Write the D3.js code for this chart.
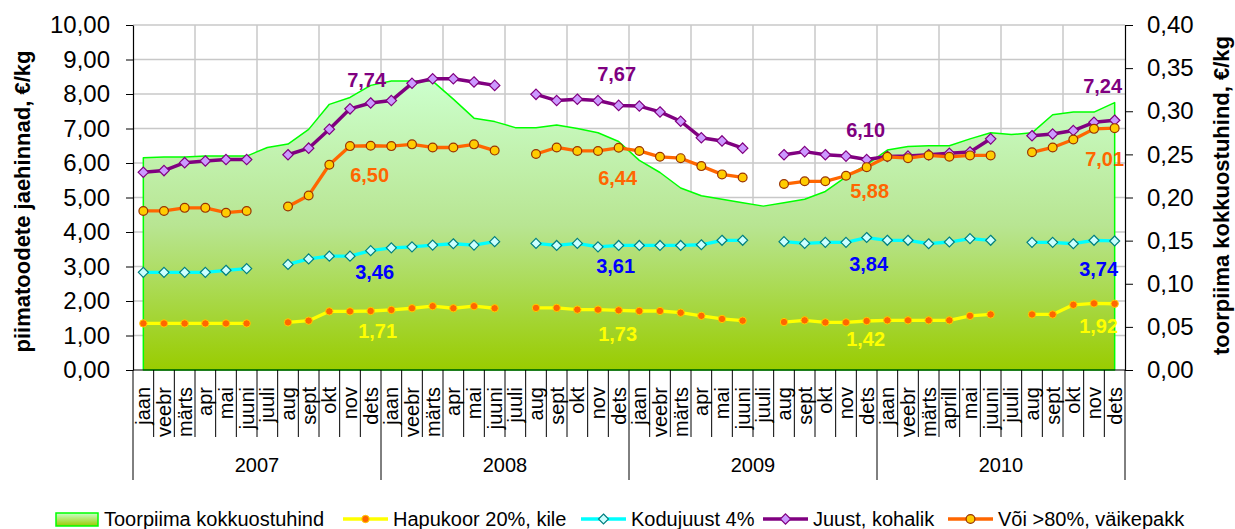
<!DOCTYPE html>
<html>
<head>
<meta charset="utf-8">
<script src="https://cdn.jsdelivr.net/npm/d3@7"></script>
<style>
  html, body { margin: 0; padding: 0; background: #fff; }
  svg { display: block; font-family: "Liberation Sans", Arial, sans-serif; }
</style>
</head>
<body>
<svg id="chart" width="1235" height="529"></svg>
<script>
// ---------------- DATA ----------------
const years = ["2007", "2008", "2009", "2010"];
const monthsStd = ["jaan","veebr","märts","apr","mai","juuni","juuli","aug","sept","okt","nov","dets"];
const months2010 = ["jaan","veebr","märts","aprill","mai","juuni","juuli","aug","sept","okt","nov","dets"];
const monthLabels = [...monthsStd, ...monthsStd, ...monthsStd, ...months2010];

const leftTicks = [0,1,2,3,4,5,6,7,8,9,10];
const rightTicks = [0,0.05,0.10,0.15,0.20,0.25,0.30,0.35,0.40];

// Toorpiima kokkuostuhind (right axis)
const toorpiima = [
  0.246,0.247,0.247,0.248,0.248,0.248,0.258,0.262,0.279,0.308,0.316,0.330,
  0.335,0.335,0.335,0.314,0.292,0.288,0.281,0.281,0.284,0.280,0.275,0.265,
  0.243,0.229,0.211,0.202,0.198,0.194,0.190,0.194,0.198,0.207,0.224,0.238,
  0.255,0.259,0.260,0.260,0.268,0.275,0.273,0.275,0.296,0.299,0.299,0.310
];
// Hapukoor 20%, kile
const hapukoor = [
  1.35,1.35,1.35,1.35,1.35,1.35,null,1.38,1.43,1.70,1.70,1.71,
  1.74,1.79,1.85,1.79,1.85,1.79,null,1.80,1.80,1.75,1.75,1.73,
  1.71,1.71,1.66,1.57,1.48,1.43,null,1.39,1.44,1.38,1.38,1.42,
  1.44,1.44,1.44,1.44,1.57,1.61,null,1.61,1.61,1.89,1.93,1.92
];
// Kodujuust 4%
const kodujuust = [
  2.83,2.83,2.83,2.83,2.89,2.94,null,3.06,3.22,3.30,3.30,3.46,
  3.54,3.57,3.62,3.66,3.62,3.72,null,3.67,3.61,3.67,3.57,3.61,
  3.61,3.61,3.61,3.63,3.76,3.76,null,3.72,3.67,3.70,3.70,3.84,
  3.76,3.76,3.66,3.71,3.81,3.76,null,3.70,3.70,3.66,3.76,3.74
];
// Juust, kohalik
const juust = [
  5.73,5.78,6.01,6.06,6.10,6.10,null,6.24,6.43,6.98,7.57,7.74,
  7.81,8.31,8.44,8.44,8.35,8.25,null,7.99,7.81,7.85,7.81,7.67,
  7.65,7.48,7.21,6.73,6.64,6.43,null,6.24,6.33,6.24,6.20,6.10,
  6.19,6.20,6.24,6.28,6.32,6.70,null,6.79,6.84,6.94,7.18,7.24
];
// Või >80%, väikepakk
const voi = [
  4.61,4.61,4.70,4.70,4.56,4.61,null,4.74,5.06,5.95,6.49,6.50,
  6.49,6.54,6.45,6.45,6.54,6.36,null,6.26,6.45,6.35,6.35,6.44,
  6.35,6.18,6.14,5.91,5.67,5.58,null,5.39,5.47,5.47,5.63,5.88,
  6.18,6.14,6.22,6.18,6.22,6.22,null,6.31,6.45,6.68,6.99,7.01
];

const seriesNames = ["Toorpiima kokkuostuhind","Hapukoor 20%, kile","Kodujuust 4%","Juust, kohalik","Või >80%, väikepakk"];
// indices of the December points that carry a value label
const labelIdx = [11, 23, 35, 47];

// ---------------- LAYOUT / STYLE ----------------
const L = { left: 133, right: 1125, top: 25, bottom: 370 };
const FONT = '"Liberation Sans", Arial, sans-serif';

const styles = {
  hapukoor:  { line: "#ffff00", width: 3.3, marker: "circle",  r: 3.7, fill: "#ff6600", stroke: "#ffcc00", sw: 1,   label: "#ffff00" },
  kodujuust: { line: "#00ffff", width: 3.3, marker: "diamond", r: 5,   fill: "#ccffff", stroke: "#008080", sw: 1.2, label: "#0000ff" },
  juust:     { line: "#800080", width: 3.5, marker: "diamond", r: 5.2, fill: "#cc99ff", stroke: "#800080", sw: 1.2, label: "#800080" },
  voi:       { line: "#ff6600", width: 3.3, marker: "circle",  r: 4.4, fill: "#ffcc00", stroke: "#993300", sw: 1.2, label: "#ff6600" }
};
// label offsets (dx, dy of baseline) relative to the labelled point, one per December
const labelOffsets = {
  juust:     [[-4,-16],[-2,-24],[-1,-23],[-12,-27]],
  voi:       [[-1,36],[-1,37],[3,31],[-10,38]],
  kodujuust: [[4,28],[-3,28],[2,33],[-16,35]],
  hapukoor:  [[7,27],[-1,31],[-1,25],[-16,29]]
};

// ---------------- SCALES ----------------
const svg = d3.select("#chart");
const x = d3.scaleBand().domain(d3.range(monthLabels.length)).range([L.left, L.right]).padding(0);
const bw = x.bandwidth();
const cx = i => x(i) + bw / 2;
const yL = d3.scaleLinear().domain([0, 10]).range([L.bottom, L.top]);
const yR = d3.scaleLinear().domain([0, 0.4]).range([L.bottom, L.top]);

// ---------------- DEFS ----------------
const defs = svg.append("defs");
const grad = defs.append("linearGradient").attr("id", "areaGrad")
  .attr("gradientUnits", "userSpaceOnUse")
  .attr("x1", 0).attr("x2", 0)
  .attr("y1", yR(d3.max(toorpiima))).attr("y2", yR(0));
grad.append("stop").attr("offset", "0").attr("stop-color", "#ccffcc");
grad.append("stop").attr("offset", "0.5").attr("stop-color", "#b8e592");
grad.append("stop").attr("offset", "1").attr("stop-color", "#99cc00");
const grad2 = defs.append("linearGradient").attr("id", "legGrad")
  .attr("x1", 0).attr("x2", 0).attr("y1", 0).attr("y2", 1);
grad2.append("stop").attr("offset", "0").attr("stop-color", "#ccffcc");
grad2.append("stop").attr("offset", "1").attr("stop-color", "#99cc00");

// ---------------- GRID ----------------
const grid = svg.append("g");
grid.selectAll("line.h").data(leftTicks.filter(d => d > 0)).join("line")
  .attr("x1", L.left).attr("x2", L.right)
  .attr("y1", d => yL(d)).attr("y2", d => yL(d))
  .attr("stroke", "#c8c8c8").attr("stroke-width", 1.5);
grid.selectAll("line.v").data(d3.range(3, monthLabels.length, 3)).join("line")
  .attr("x1", d => x(d)).attr("x2", d => x(d))
  .attr("y1", L.top).attr("y2", L.bottom)
  .attr("stroke", "#c8c8c8").attr("stroke-width", 1.5);

// ---------------- AREA ----------------
const area = d3.area()
  .x((d, i) => cx(i))
  .y0(yR(0))
  .y1(d => yR(d));
svg.append("path").datum(toorpiima)
  .attr("d", area)
  .attr("fill", "url(#areaGrad)")
  .attr("stroke", "#00ff00")
  .attr("stroke-width", 1.5)
  .attr("stroke-linejoin", "round");

// ---------------- LINES ----------------
function drawSeries(data, st) {
  const g = svg.append("g");
  const line = d3.line().defined(d => d != null).x((d, i) => cx(i)).y(d => yL(d));
  g.append("path").datum(data).attr("d", line)
    .attr("fill", "none").attr("stroke", st.line).attr("stroke-width", st.width)
    .attr("stroke-linejoin", "round");
  const pts = data.map((v, i) => ({ v, i })).filter(d => d.v != null);
  if (st.marker === "circle") {
    g.selectAll("circle").data(pts).join("circle")
      .attr("cx", d => cx(d.i)).attr("cy", d => yL(d.v)).attr("r", st.r)
      .attr("fill", st.fill).attr("stroke", st.stroke).attr("stroke-width", st.sw);
  } else {
    g.selectAll("path.m").data(pts).join("path")
      .attr("d", d => {
        const px = cx(d.i), py = yL(d.v), r = st.r;
        return `M${px},${py - r}L${px + r},${py}L${px},${py + r}L${px - r},${py}Z`;
      })
      .attr("fill", st.fill).attr("stroke", st.stroke).attr("stroke-width", st.sw);
  }
}
drawSeries(hapukoor, styles.hapukoor);
drawSeries(kodujuust, styles.kodujuust);
drawSeries(juust, styles.juust);
drawSeries(voi, styles.voi);

// ---------------- VALUE LABELS ----------------
const fmt2 = v => v.toFixed(2).replace(".", ",");
function drawLabels(data, key) {
  const st = styles[key];
  svg.append("g").selectAll("text").data(labelIdx).join("text")
    .attr("x", (d, k) => cx(d) + labelOffsets[key][k][0])
    .attr("y", (d, k) => yL(data[d]) + labelOffsets[key][k][1])
    .attr("text-anchor", "middle")
    .attr("font-family", FONT).attr("font-weight", "bold").attr("font-size", 20)
    .attr("fill", st.label)
    .text(d => fmt2(data[d]));
}
drawLabels(juust, "juust");
drawLabels(voi, "voi");
drawLabels(kodujuust, "kodujuust");
drawLabels(hapukoor, "hapukoor");

// ---------------- AXES ----------------
const axL = svg.append("g").attr("transform", `translate(${L.left},0)`)
  .call(d3.axisLeft(yL).tickValues(leftTicks).tickFormat(fmt2).tickSize(7).tickSizeOuter(0).tickPadding(16));
const axR = svg.append("g").attr("transform", `translate(${L.right},0)`)
  .call(d3.axisRight(yR).tickValues(rightTicks).tickFormat(fmt2).tickSize(8).tickSizeOuter(0).tickPadding(14));
[axL, axR].forEach(a => {
  a.selectAll("text").attr("font-family", FONT).attr("font-size", 24).attr("fill", "#000");
  a.selectAll("line").attr("stroke", "#000");
  a.select(".domain").attr("stroke", "#000").attr("stroke-width", 1.2);
});

// bottom axis line
svg.append("line").attr("x1", L.left).attr("x2", L.right)
  .attr("y1", L.bottom).attr("y2", L.bottom).attr("stroke", "#000").attr("stroke-width", 1.2);

// month separators and year separators
const sep = svg.append("g");
sep.selectAll("line").data(d3.range(0, monthLabels.length + 1)).join("line")
  .attr("x1", d => d < monthLabels.length ? x(d) : L.right)
  .attr("x2", d => d < monthLabels.length ? x(d) : L.right)
  .attr("y1", L.bottom)
  .attr("y2", d => d % 12 === 0 ? 480 : 437)
  .attr("stroke", "#000").attr("stroke-width", 1);

// month labels (rotated)
svg.append("g").selectAll("text").data(monthLabels).join("text")
  .attr("transform", (d, i) => `translate(${cx(i)},387) rotate(-90)`)
  .attr("text-anchor", "end")
  .attr("dy", "0.35em")
  .attr("font-family", FONT).attr("font-size", 20).attr("fill", "#000")
  .text(d => d);

// year labels
svg.append("g").selectAll("text").data(years).join("text")
  .attr("x", (d, k) => (x(k * 12) + (k * 12 + 12 < monthLabels.length ? x(k * 12 + 12) : L.right)) / 2)
  .attr("y", 472)
  .attr("text-anchor", "middle")
  .attr("font-family", FONT).attr("font-size", 20).attr("fill", "#000")
  .text(d => d);

// axis titles
svg.append("text")
  .attr("transform", `translate(30,${(L.top + L.bottom) / 2 + 4}) rotate(-90)`)
  .attr("text-anchor", "middle")
  .attr("font-family", FONT).attr("font-weight", "bold").attr("font-size", 22)
  .text("piimatoodete jaehinnad, €/kg");
svg.append("text")
  .attr("transform", `translate(1229,${(L.top + L.bottom) / 2 - 2}) rotate(-90)`)
  .attr("text-anchor", "middle")
  .attr("font-family", FONT).attr("font-weight", "bold").attr("font-size", 22)
  .text("toorpiima kokkuostuhind, €/kg");

// ---------------- LEGEND ----------------
const legendX = [56, 343, 581, 763, 948];
const legKeys = [null, "hapukoor", "kodujuust", "juust", "voi"];
const legY = 519;
const leg = svg.append("g");
seriesNames.forEach((name, k) => {
  const x0 = legendX[k];
  let tx;
  if (k === 0) {
    leg.append("rect").attr("x", x0).attr("y", legY - 6).attr("width", 42).attr("height", 13)
      .attr("fill", "url(#legGrad)").attr("stroke", "#00ff00").attr("stroke-width", 1.5);
    tx = x0 + 48;
  } else {
    const st = styles[legKeys[k]];
    leg.append("line").attr("x1", x0).attr("x2", x0 + 45).attr("y1", legY).attr("y2", legY)
      .attr("stroke", st.line).attr("stroke-width", st.width);
    const mx = x0 + 22.5;
    if (st.marker === "circle") {
      leg.append("circle").attr("cx", mx).attr("cy", legY).attr("r", st.r)
        .attr("fill", st.fill).attr("stroke", st.stroke).attr("stroke-width", st.sw);
    } else {
      const r = st.r;
      leg.append("path").attr("d", `M${mx},${legY - r}L${mx + r},${legY}L${mx},${legY + r}L${mx - r},${legY}Z`)
        .attr("fill", st.fill).attr("stroke", st.stroke).attr("stroke-width", st.sw);
    }
    tx = x0 + 50;
  }
  leg.append("text").attr("x", tx).attr("y", legY + 7)
    .attr("font-family", FONT).attr("font-size", 20).attr("fill", "#000")
    .text(name);
});
</script>
</body>
</html>
